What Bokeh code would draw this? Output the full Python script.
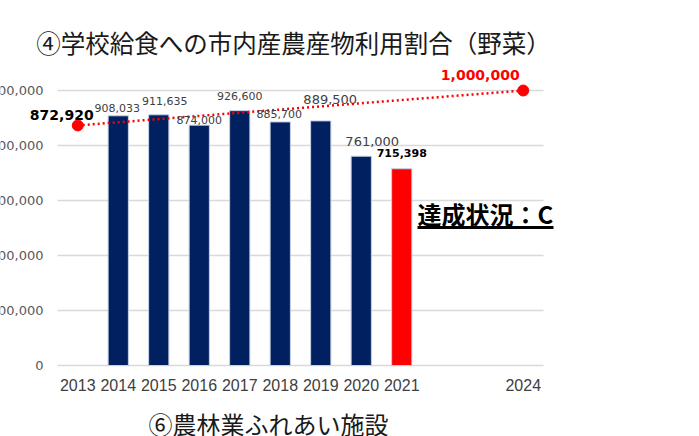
from bokeh.plotting import figure
from bokeh.models import ColumnDataSource, LabelSet, Label, Range1d
from bokeh.core.properties import value
from bokeh.embed import file_html
from bokeh.resources import INLINE

# ---- data ----
title_text = "④学校給食への市内産農産物利用割合（野菜）"
bottom_text = "⑥農林業ふれあい施設"
status_text = "達成状況：C"

bar_years = [2014, 2015, 2016, 2017, 2018, 2019, 2020]
bar_values = [908033, 911635, 874000, 926600, 885700, 889500, 761000]
current_year = [2021]
current_value = [715398]
target_years = [2013, 2024]
target_values = [872920, 1000000]

year_ticks = [2013, 2014, 2015, 2016, 2017, 2018, 2019, 2020, 2021, 2024]
year_labels = ["2013", "2014", "2015", "2016", "2017", "2018", "2019", "2020", "2021", "2024"]
y_ticks = [0, 200000, 400000, 600000, 800000, 1000000]
y_labels = ["0", "200,000", "400,000", "600,000", "800,000", "1,000,000"]

# ---- layout (pixels) ----
W, H = 699, 436
PL = 57            # plot-area left (px)
PB = 365           # plot-area bottom (px)
PX_YEAR = 40.5
PX_UNIT = 275 / 1_000_000
X0 = 2012.5

def dx(px):
    return X0 + (px - PL) / PX_YEAR

def dy(py):
    return (PB - py) / PX_UNIT

p = figure(width=W, height=H, output_backend="svg", toolbar_location=None,
           x_axis_location=None, y_axis_location=None, title=None,
           x_range=Range1d(dx(0), dx(W)), y_range=Range1d(dy(H), dy(0)),
           min_border_left=0, min_border_right=0, min_border_top=0,
           min_border_bottom=0)
p.outline_line_color = None
p.background_fill_color = "white"
p.border_fill_color = "white"
p.xgrid.visible = False
p.ygrid.visible = False

# gridlines
p.segment(x0=[X0] * len(y_ticks), x1=[X0 + 12] * len(y_ticks), y0=y_ticks, y1=y_ticks,
          line_color="#d9d9d9", line_width=1.5)

# bars
p.vbar(x=bar_years, top=bar_values, width=0.5, fill_color="#002060",
       line_color="#c5d0e6", line_width=1)
p.vbar(x=current_year, top=current_value, width=0.5, fill_color="#ff0000",
       line_color="#c5d0e6", line_width=1)

# target line
p.line(x=target_years, y=target_values, line_color="#ff0000", line_width=2.5,
       line_dash="2 3")
p.scatter(x=target_years, y=target_values, size=11, color="#ff0000")

# value labels
lab_x = bar_years + current_year + target_years
lab_y = bar_values + current_value + target_values
lab_text = [f"{v:,}" for v in lab_y]
lab_xoff = [-1, 6, 0, 0, -1, 9.5, 11, 0, -16, -43]
lab_yoff = [8, 14, 5.5, 14.7, 7.6, 21.4, 15, 16, 10, 16]
lab_size = ["11px", "11px", "11px", "11px", "11px", "13px", "13px", "11px", "14px", "14px"]
lab_style = ["normal"] * 7 + ["bold", "bold", "bold"]
lab_color = ["#404040"] * 7 + ["#000000", "#000000", "#ff0000"]
src = ColumnDataSource(dict(x=lab_x, y=lab_y, text=lab_text, xo=lab_xoff, yo=lab_yoff,
                            fs=lab_size, st=lab_style, c=lab_color))
p.add_layout(LabelSet(x="x", y="y", text="text", source=src, x_offset="xo", y_offset="yo",
                      text_font_size="fs", text_font_style="st", text_color="c",
                      text_align="center", text_baseline="middle",
                      text_font=value("DejaVu Sans")))

# y tick labels (cropped at the left edge like the reference)
ysrc = ColumnDataSource(dict(y=y_ticks, text=y_labels))
p.add_layout(LabelSet(x=dx(43), y="y", text="text", source=ysrc,
                      text_align="right", text_baseline="middle",
                      text_font_size="13px", text_color="#595959",
                      text_font=value("DejaVu Sans")))

# x tick labels
xsrc = ColumnDataSource(dict(x=year_ticks, text=year_labels))
p.add_layout(LabelSet(x="x", y=0, text="text", source=xsrc, y_offset=-19,
                      text_align="center", text_baseline="middle",
                      text_font_size="16px", text_color="#404040",
                      text_font=value("Liberation Sans")))

# titles
p.add_layout(Label(x=dx(293), y=dy(42), text=title_text, text_align="center",
                   text_baseline="middle", text_font_size="24.5px", text_color="#1a1a1a",
                   text_font="Noto Sans CJK JP"))
p.add_layout(Label(x=dx(268), y=dy(423), text=bottom_text, text_align="center",
                   text_baseline="middle", text_font_size="24px", text_color="#1a1a1a",
                   text_font="Noto Sans CJK JP"))

# status
p.add_layout(Label(x=dx(417), y=dy(213), text=status_text, text_align="left",
                   text_baseline="middle", text_font_size="24px", text_font_style="bold",
                   text_color="#000000", text_font="Noto Sans CJK JP"))
p.segment(x0=[dx(417)], x1=[dx(553)], y0=[dy(227)], y1=[dy(227)],
          line_color="#000000", line_width=3)

open("out.html", "w").write(file_html(p, INLINE))
